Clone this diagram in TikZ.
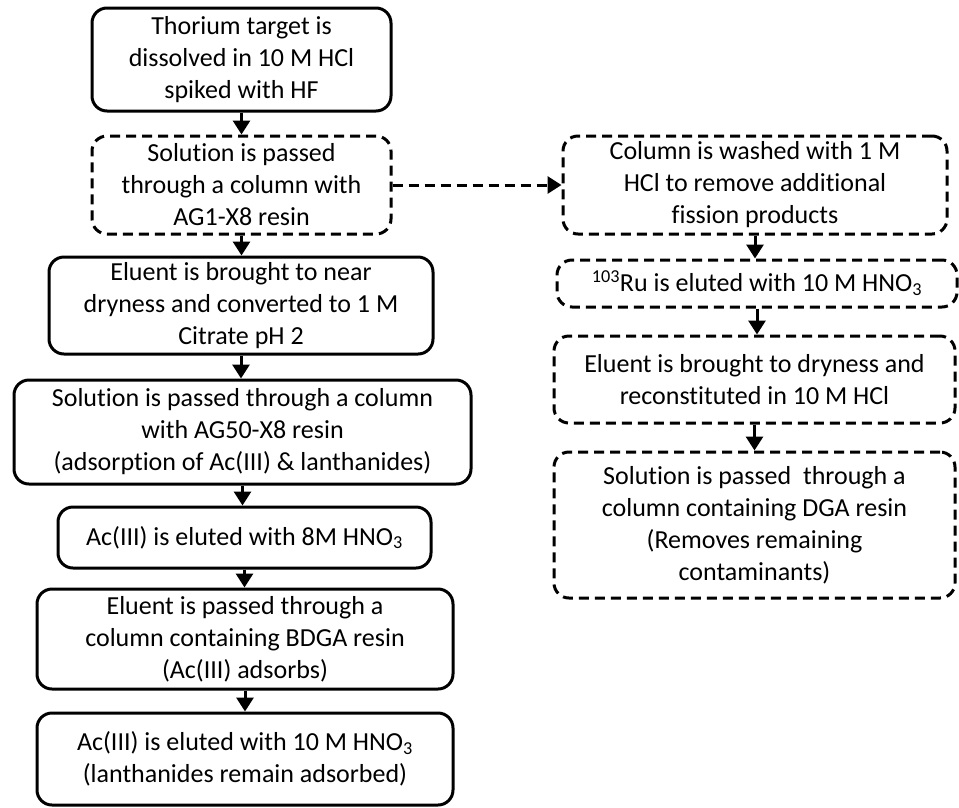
\documentclass[tikz,border=0pt]{standalone}
\usepackage{fontspec}
\setmainfont{Carlito}[RawFeature=-liga]
\usetikzlibrary{arrows.meta}
\tikzset{
	stepbox/.style={draw, line width=3pt, rounded corners=15pt, align=center,
		inner sep=0pt, font=\fontsize{26}{32}\selectfont},
	dashbox/.style={stepbox, dash pattern=on 10pt off 6pt},
	arr/.style={line width=3pt, -{Triangle[width=17pt,length=14pt]}}
}
\begin{document}
\begin{tikzpicture}[x=1pt,y=-1pt]
	\useasboundingbox (0,0) rectangle (959,807);
	%linke spalte
	\node[stepbox, minimum width=299pt, minimum height=103pt] (thor) at (241.5,59.5)
		{Thorium target is\\dissolved in 10 M HCl\\spiked with HF};
	\node[dashbox, minimum width=299pt, minimum height=98pt] (pass) at (241.5,185)
		{Solution is passed\\through a column with\\AG1-X8 resin};
	\node[stepbox, minimum width=384pt, minimum height=97pt] (dry) at (241,305.5)
		{Eluent is brought to near\\dryness and converted to 1 M\\Citrate pH 2};
	\node[stepbox, minimum width=457pt, minimum height=104pt] (agfifty) at (242.5,432)
		{Solution is passed through a column\\with AG50-X8 resin\\(adsorption of Ac(III) \& lanthanides)};
	\node[stepbox, minimum width=373pt, minimum height=61pt] (eluteA) at (244.5,537.5)
		{Ac(III) is eluted with 8M HNO\textsubscript{3}};
	\node[stepbox, minimum width=416pt, minimum height=100pt] (bdga) at (245,639)
		{Eluent is passed through a\\column containing BDGA resin\\(Ac(III) adsorbs)};
	\node[stepbox, minimum width=416pt, minimum height=92pt] (eluteB) at (245,759)
		{Ac(III) is eluted with 10 M HNO\textsubscript{3}\\(lanthanides remain adsorbed)};
	%rechte spalte
	\node[dashbox, minimum width=384pt, minimum height=98pt] (wash) at (755,185)
		{Column is washed with 1 M\\HCl to remove additional\\fission products};
	\node[dashbox, minimum width=400pt, minimum height=47pt] (ru) at (757,283.5)
		{\textsuperscript{103}Ru is eluted with 10 M HNO\textsubscript{3}};
	\node[dashbox, minimum width=401pt, minimum height=87pt] (recon) at (754.5,379.5)
		{Eluent is brought to dryness and\\reconstituted in 10 M HCl};
	\node[dashbox, minimum width=401pt, minimum height=146pt] (dga) at (754.5,525)
		{Solution is passed\ \ through a\\column containing DGA resin\\(Removes remaining\\contaminants)};
	%pfeile
	\foreach \a/\b in {thor/pass, pass/dry, dry/agfifty, agfifty/eluteA, eluteA/bdga, bdga/eluteB,
		wash/ru, ru/recon, recon/dga} {
		\draw[arr] (\a.south) -- (\a.south |- \b.north);
	}
	\draw[arr, dash pattern=on 10pt off 6pt] (pass) -- (wash);
\end{tikzpicture}
\end{document}
